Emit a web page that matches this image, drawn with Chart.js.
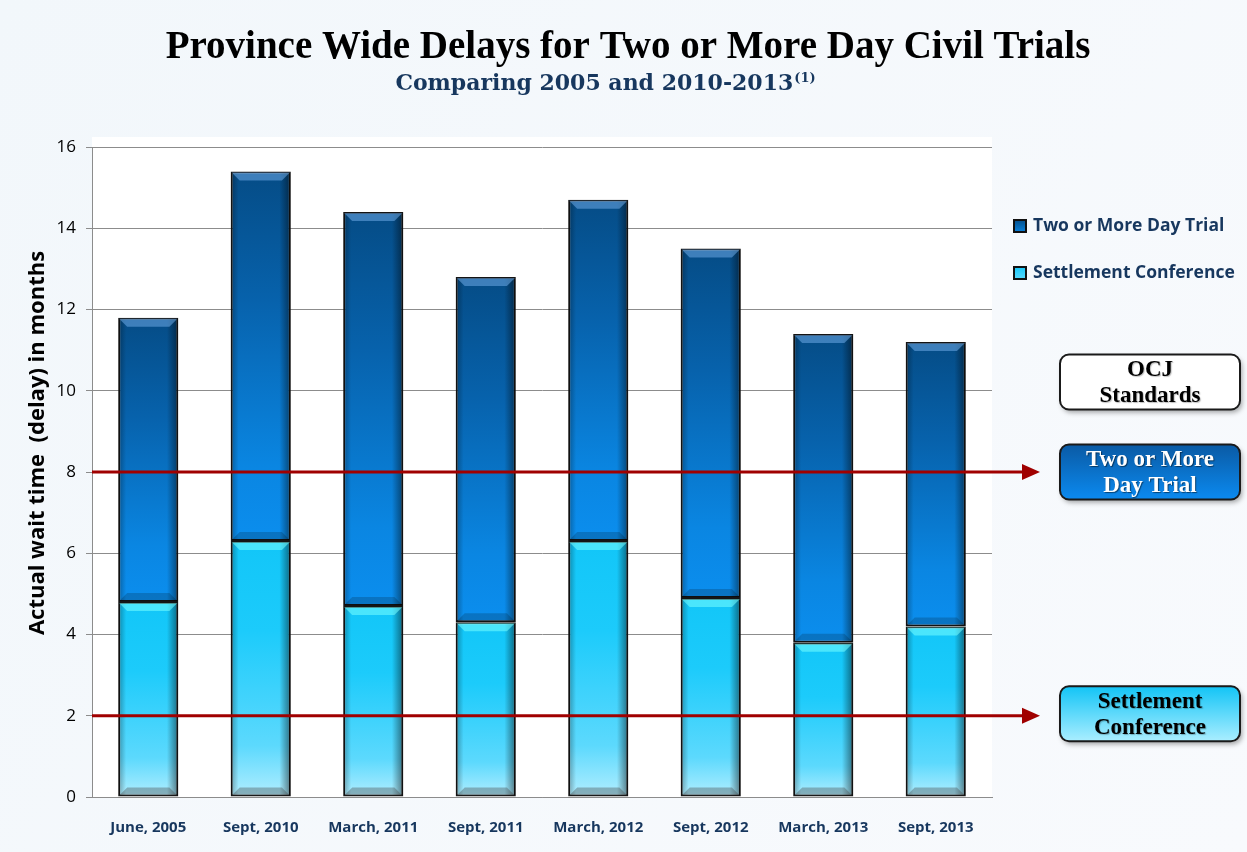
<!DOCTYPE html>
<html>
<head>
<meta charset="utf-8">
<title>Province Wide Delays for Two or More Day Civil Trials</title>
<script src="https://cdn.jsdelivr.net/npm/chart.js@4.4.1/dist/chart.umd.min.js"></script>
<style>
  html, body { margin: 0; padding: 0; background: #f6f9fc; }
  #wrap { width: 1247px; height: 852px; }
</style>
</head>
<body>
<div id="wrap"><canvas id="chart" width="1247" height="852"></canvas></div>
<script>
const categories = ["June, 2005", "Sept, 2010", "March, 2011", "Sept, 2011", "March, 2012", "Sept, 2012", "March, 2013", "Sept, 2013"];
const settlementConference = [4.8, 6.3, 4.7, 4.3, 6.3, 4.9, 3.8, 4.2];
const twoOrMoreDayTrial = [7.0, 9.1, 9.7, 8.5, 8.4, 8.6, 7.6, 7.0];
const seriesNames = ["Two or More Day Trial", "Settlement Conference"];
const standards = [
    { value: 8, lines: ["Two or More", "Day Trial"] },
    { value: 2, lines: ["Settlement", "Conference"] }
];
const yMin = 0, yMax = 16, yStep = 2;

const TITLE = "Province Wide Delays for Two or More Day Civil Trials";
const SUBTITLE = "Comparing 2005 and 2010-2013";
const Y_TITLE = "Actual wait time  (delay) in months";

const NAVY = "#17375e";
const RED = "#a00000";

// colour stops top -> bottom for each segment
const TRIAL_STOPS = ["#054c86", "#0762ac", "#0a86e2", "#0b8eee"];
const SETTLE_STOPS = ["#12c6f8", "#1ccbfb", "#5cd9fd", "#b2eeff"];

function segmentFill(ctx) {
    const chart = ctx.chart;
    const stops = ctx.datasetIndex === 0 ? SETTLE_STOPS : TRIAL_STOPS;
    if (!chart.chartArea || ctx.dataIndex === undefined) return stops[1];
    const y = chart.scales.y;
    const i = ctx.dataIndex;
    const base = ctx.datasetIndex === 0 ? 0 : settlementConference[i];
    const top = base + chart.data.datasets[ctx.datasetIndex].data[i];
    const g = chart.ctx.createLinearGradient(0, y.getPixelForValue(top), 0, y.getPixelForValue(base));
    g.addColorStop(0, stops[0]);
    g.addColorStop(0.35, stops[1]);
    g.addColorStop(0.8, stops[2]);
    g.addColorStop(1, stops[3]);
    return g;
}

const backgroundPlugin = {
    id: "bg",
    beforeDraw(chart) {
        const c = chart.ctx, a = chart.chartArea;
        c.save();
        const g = c.createLinearGradient(0, 0, chart.width, chart.height);
        g.addColorStop(0, "#f2f7fb");
        g.addColorStop(1, "#f8fafd");
        c.fillStyle = g;
        c.fillRect(0, 0, chart.width, chart.height);
        c.fillStyle = "#ffffff";
        c.fillRect(a.left, a.top - 10, a.right - a.left, a.bottom - a.top + 10);
        c.restore();
    }
};

const bevelPlugin = {
    id: "bevel",
    afterDatasetsDraw(chart) {
        const c = chart.ctx;
        c.save();
        chart.data.datasets.forEach((ds, di) => {
            const meta = chart.getDatasetMeta(di);
            meta.data.forEach(el => {
                const p = el.getProps(["x", "y", "base", "width"], true);
                const l = p.x - p.width / 2 + 1, r = p.x + p.width / 2 - 1;
                const t = Math.min(p.y, p.base) + 1, b = Math.max(p.y, p.base) - 1;
                const bv = 8;
                // side shading
                const sg = c.createLinearGradient(l, 0, r, 0);
                sg.addColorStop(0, "rgba(0,0,0,0.28)");
                sg.addColorStop(0.12, "rgba(0,0,0,0)");
                sg.addColorStop(0.82, "rgba(0,0,0,0)");
                sg.addColorStop(1, "rgba(0,0,0,0.45)");
                c.fillStyle = sg;
                c.fillRect(l, t, r - l, b - t);
                // top highlight
                c.beginPath();
                c.moveTo(l, t); c.lineTo(r, t); c.lineTo(r - bv, t + bv); c.lineTo(l + bv, t + bv); c.closePath();
                c.fillStyle = di === 0 ? "rgba(120,255,255,0.55)" : "rgba(110,170,230,0.55)";
                c.fill();
                // bottom shade
                c.beginPath();
                c.moveTo(l, b); c.lineTo(r, b); c.lineTo(r - bv, b - bv); c.lineTo(l + bv, b - bv); c.closePath();
                c.fillStyle = di === 0 ? "rgba(60,60,60,0.35)" : "rgba(0,0,0,0.18)";
                c.fill();
            });
        });
        c.restore();
    }
};

function roundBox(c, x, y, w, h, r) {
    c.beginPath();
    c.moveTo(x + r, y);
    c.arcTo(x + w, y, x + w, y + h, r);
    c.arcTo(x + w, y + h, x, y + h, r);
    c.arcTo(x, y + h, x, y, r);
    c.arcTo(x, y, x + w, y, r);
    c.closePath();
}

function drawBox(c, cx, cy, lines, fillTop, fillBottom, textColor) {
    const w = 180, h = 55, x = cx - w / 2, y = cy - h / 2;
    c.save();
    c.shadowColor = "rgba(0,0,0,0.35)";
    c.shadowBlur = 5;
    c.shadowOffsetX = 2;
    c.shadowOffsetY = 3;
    roundBox(c, x, y, w, h, 9);
    const g = c.createLinearGradient(0, y, 0, y + h);
    g.addColorStop(0, fillTop);
    g.addColorStop(1, fillBottom);
    c.fillStyle = g;
    c.fill();
    c.shadowColor = "transparent";
    c.lineWidth = 2;
    c.strokeStyle = "#1a1a1a";
    c.stroke();
    c.fillStyle = textColor;
    c.font = "bold 23px 'Liberation Serif', 'DejaVu Serif', serif";
    c.textAlign = "center";
    c.textBaseline = "middle";
    c.shadowColor = textColor === "#ffffff" ? "rgba(0,0,0,0.5)" : "rgba(0,0,0,0.25)";
    c.shadowOffsetX = 1; c.shadowOffsetY = 1; c.shadowBlur = 1;
    c.fillText(lines[0], cx, cy - 12);
    c.fillText(lines[1], cx, cy + 14);
    c.restore();
}

const annotationPlugin = {
    id: "annotations",
    afterDatasetsDraw(chart) {
        const c = chart.ctx, a = chart.chartArea, y = chart.scales.y;
        c.save();
        // reference lines with arrows
        standards.forEach(s => {
            const py = y.getPixelForValue(s.value);
            c.strokeStyle = RED;
            c.lineWidth = 3;
            c.beginPath();
            c.moveTo(a.left, py);
            c.lineTo(1026, py);
            c.stroke();
            c.fillStyle = RED;
            c.beginPath();
            c.moveTo(1040, py);
            c.lineTo(1022, py - 8);
            c.lineTo(1022, py + 8);
            c.closePath();
            c.fill();
        });
        c.restore();
    },
    afterDraw(chart) {
        const c = chart.ctx, y = chart.scales.y;
        c.save();
        // titles
        c.textAlign = "center";
        c.textBaseline = "alphabetic";
        c.fillStyle = "#000000";
        c.font = "bold 39px 'Liberation Serif', serif";
        c.fillText(TITLE, 628, 58);
        c.fillStyle = NAVY;
        const subFont = "bold 22px 'DejaVu Serif', serif";
        const supFont = "bold 13px 'DejaVu Serif', serif";
        c.font = subFont;
        const sw = c.measureText(SUBTITLE).width;
        c.font = supFont;
        const supw = c.measureText("(1)").width;
        const sx = 605 - (sw + supw) / 2;
        c.textAlign = "left";
        c.font = subFont;
        c.fillText(SUBTITLE, sx, 90);
        c.font = supFont;
        c.fillText("(1)", sx + sw + 1, 82);

        // y axis title
        c.save();
        c.translate(38, 443);
        c.rotate(-Math.PI / 2);
        c.textAlign = "center";
        c.textBaseline = "middle";
        c.fillStyle = "#000000";
        c.font = "bold 22px 'Open Sans', sans-serif";
        c.fillText(Y_TITLE, 0, 0);
        c.restore();

        // legend
        const legend = [
            { name: seriesNames[0], stops: TRIAL_STOPS, cy: 226 },
            { name: seriesNames[1], stops: SETTLE_STOPS, cy: 273 }
        ];
        legend.forEach(item => {
            const g = c.createLinearGradient(0, item.cy - 7, 0, item.cy + 7);
            g.addColorStop(0, item.stops[0]);
            g.addColorStop(1, item.stops[2]);
            c.fillStyle = "#111";
            c.fillRect(1013, item.cy - 7, 14, 14);
            c.fillStyle = g;
            c.fillRect(1015, item.cy - 5, 10, 10);
            c.fillStyle = NAVY;
            c.font = "bold 17.5px 'Open Sans', sans-serif";
            c.textAlign = "left";
            c.textBaseline = "middle";
            c.fillText(item.name, 1033, item.cy);
        });

        // standard boxes
        const trialY = y.getPixelForValue(standards[0].value);
        const settleY = y.getPixelForValue(standards[1].value);
        drawBox(c, 1150, trialY - 90, ["OCJ", "Standards"], "#ffffff", "#ffffff", "#000000");
        drawBox(c, 1150, trialY, standards[0].lines, "#0a5aa4", "#0b8af0", "#ffffff");
        drawBox(c, 1150, settleY - 2, standards[1].lines, "#12c4f6", "#aaeeff", "#000000");
        c.restore();
    }
};

new Chart(document.getElementById("chart"), {
    type: "bar",
    data: {
        labels: categories,
        datasets: [
            {
                label: seriesNames[1],
                data: settlementConference,
                backgroundColor: segmentFill,
                borderColor: "#141414",
                borderWidth: 2,
                borderSkipped: false
            },
            {
                label: seriesNames[0],
                data: twoOrMoreDayTrial,
                backgroundColor: segmentFill,
                borderColor: "#141414",
                borderWidth: 2,
                borderSkipped: false
            }
        ]
    },
    options: {
        responsive: false,
        animation: false,
        layout: { padding: { top: 147, right: 255, left: 0, bottom: 0 } },
        datasets: { bar: { categoryPercentage: 1, barPercentage: 0.535 } },
        plugins: {
            legend: { display: false },
            title: { display: false },
            tooltip: { enabled: false }
        },
        scales: {
            x: {
                stacked: true,
                grid: { display: false },
                border: { display: true, color: "#8c8c8c", width: 1 },
                ticks: {
                    padding: 14,
                    color: NAVY,
                    font: { family: "'Open Sans', sans-serif", size: 15, weight: "bold" }
                },
                afterFit(scale) { scale.height = 55; }
            },
            y: {
                stacked: true,
                min: yMin,
                max: yMax,
                ticks: {
                    stepSize: yStep,
                    padding: 10,
                    color: "#000000",
                    font: { family: "'Open Sans', sans-serif", size: 17 }
                },
                grid: { color: "#8c8c8c", lineWidth: 1, tickLength: 6 },
                border: { display: true, color: "#8c8c8c", width: 1 },
                afterFit(scale) { scale.width = 92; }
            }
        }
    },
    plugins: [backgroundPlugin, bevelPlugin, annotationPlugin]
});
</script>
</body>
</html>
